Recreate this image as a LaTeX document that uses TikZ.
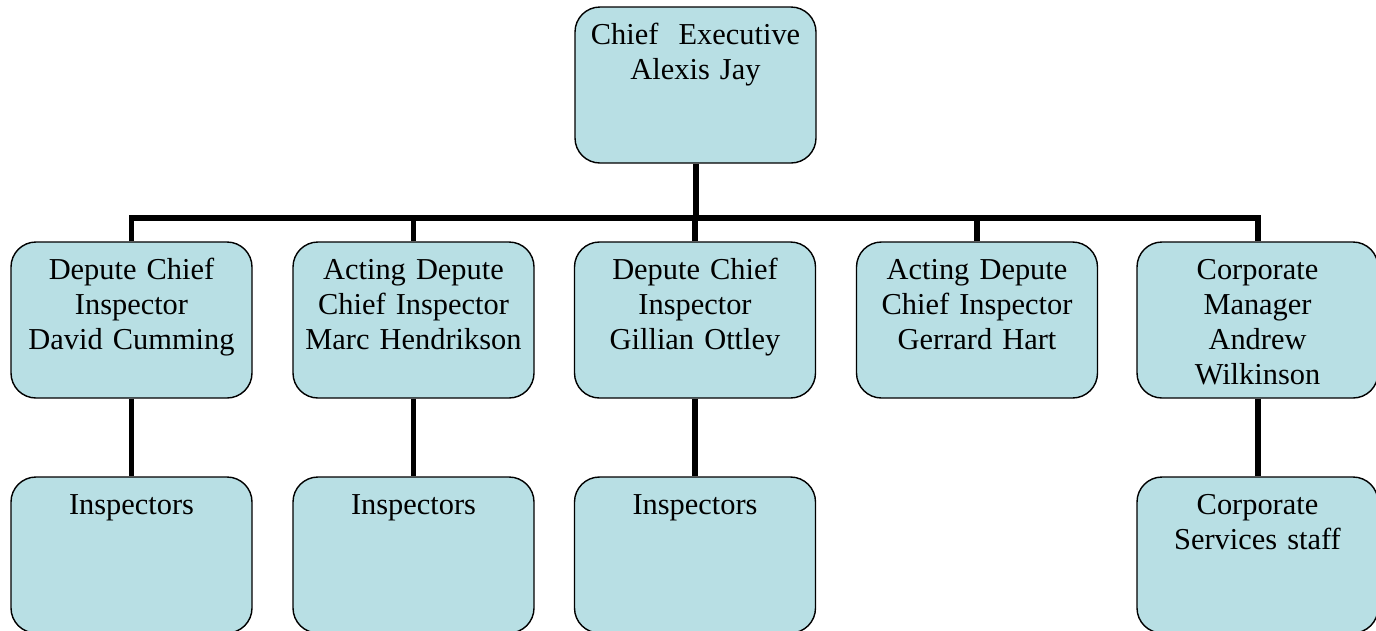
\documentclass[tikz,border=0pt]{standalone}
\usepackage{fontspec}
\setmainfont{Liberation Serif}
\usetikzlibrary{calc,positioning}
\definecolor{boxfill}{RGB}{184,223,228}

\begin{document}
\begin{tikzpicture}[every node/.style={font=\fontsize{17.3}{20}\selectfont},
  post/.style={draw=black, line width=0.8pt, fill=boxfill, rounded corners=0.5cm,
    inner sep=0pt, text width=4.82cm, align=center, text height=0.74cm, text depth=2.38cm},
  link/.style={line width=3.4pt}]  %% 1px = 0.02cm

\useasboundingbox (0,0) rectangle (27.52,-12.6);

\def\rowA{-6.40}
\def\rowB{-11.10}

%% top of the chart
\node[post] (ceo) at (13.91,-1.70) {Chief~ Executive\\Alexis Jay};

%% second row
\foreach \x/\name/\txt in {
  2.63/dep1/{Depute Chief\\Inspector\\David Cumming},
  8.27/act1/{Acting Depute\\Chief Inspector\\Marc Hendrikson},
  13.90/dep2/{Depute Chief\\Inspector\\Gillian Ottley},
  19.54/act2/{Acting Depute\\Chief Inspector\\Gerrard Hart},
  25.15/corp/{Corporate\\Manager\\Andrew\\Wilkinson}}
  \node[post] (\name) at (\x,\rowA) {\txt};

%% third row
\foreach \up/\name/\txt in {
  dep1/ins1/{Inspectors},
  act1/ins2/{Inspectors},
  dep2/ins3/{Inspectors},
  corp/staff/{Corporate\\Services staff}}
  \node[post] (\name) at (\up |- 0,\rowB) {\txt};

%% the lines
\coordinate (bar) at (0,-4.36);
\draw[link] (ceo.south) -- (ceo.south |- bar);
\draw[link] (dep1.north) |- (corp.north |- bar) -- (corp.north);
\foreach \n in {act1,dep2,act2}
  \draw[link] (\n.north) -- (\n.north |- bar);
\foreach \a/\b in {dep1/ins1,act1/ins2,dep2/ins3,corp/staff}
  \draw[link] (\a.south) -- (\b.north);
\end{tikzpicture}
\end{document}
